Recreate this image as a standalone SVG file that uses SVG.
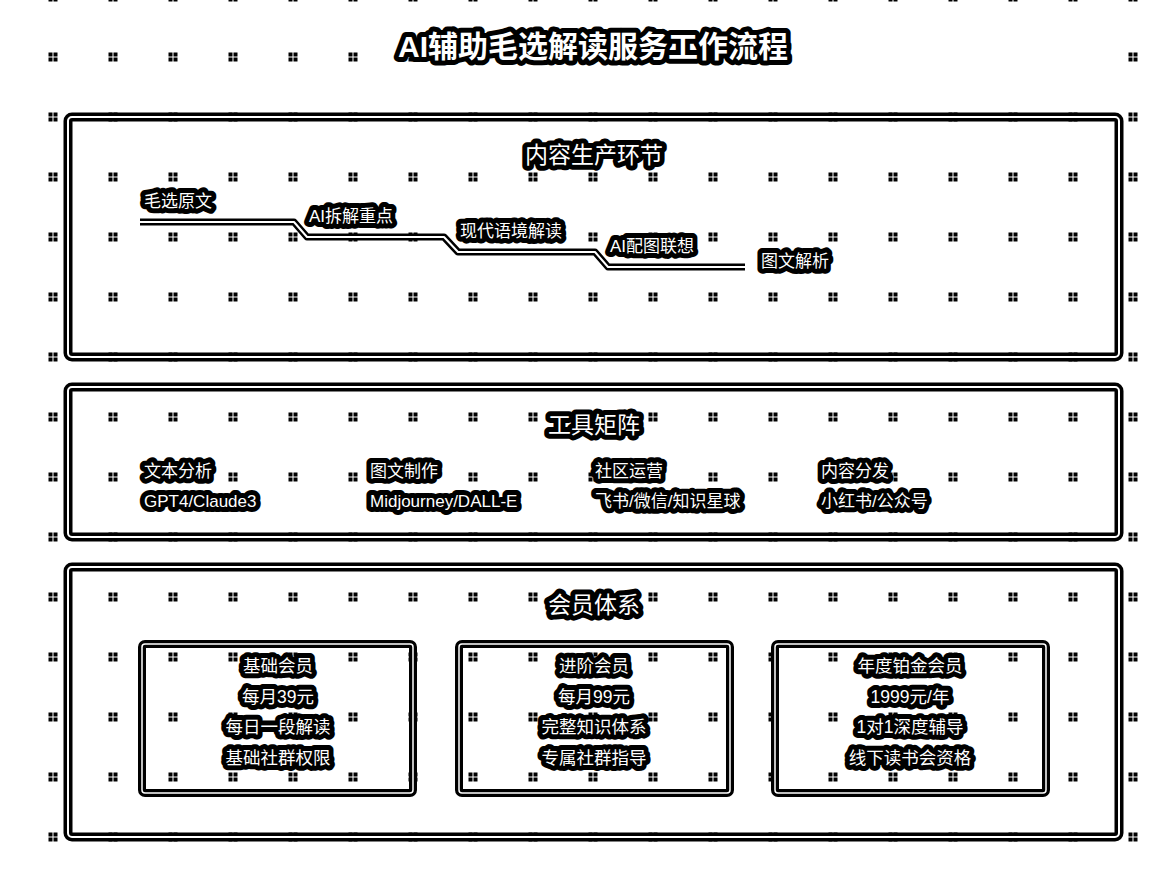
<svg xmlns="http://www.w3.org/2000/svg" width="1166" height="874" viewBox="0 0 1166 874">
<defs>
<pattern id="dots" patternUnits="userSpaceOnUse" x="23" y="27" width="60" height="60">
<rect x="25.5" y="25.5" width="4" height="4" fill="#000"/>
<rect x="30.5" y="25.5" width="4" height="4" fill="#000"/>
<rect x="25.5" y="30.5" width="4" height="4" fill="#000"/>
<rect x="30.5" y="30.5" width="4" height="4" fill="#000"/>
</pattern>
</defs>
<style>
text{font-family:"Liberation Sans","Noto Sans CJK SC",sans-serif;fill:#fff;stroke:#000;stroke-linejoin:round;paint-order:stroke fill;dominant-baseline:central}
.title{font-size:30px;font-weight:bold;stroke-width:10px;text-anchor:middle}
.sec{font-size:23px;stroke-width:10px;text-anchor:middle}
.lbl{font-size:17px;stroke-width:10px}
.ctr{font-size:17.5px;stroke-width:10px;text-anchor:middle}
.outer{fill:none;stroke:#000;stroke-width:9}
.inner{fill:none;stroke:#fff;stroke-width:2}
.couter{fill:none;stroke:#000;stroke-width:8}
.cinner{fill:none;stroke:#fff;stroke-width:1.5}
.lineo{fill:none;stroke:#000;stroke-width:7;stroke-linejoin:round}
.linei{fill:none;stroke:#fff;stroke-width:2;stroke-linejoin:round}
</style>
<rect width="1166" height="874" fill="#fff"/>
<rect width="1166" height="874" fill="url(#dots)"/>
<rect x="795" y="44" width="310" height="26" fill="#fff"/>

<g id="title">
<text class="title" x="593" y="46">AI辅助毛选解读服务工作流程</text>
</g>

<g id="section-content">
<rect class="outer" x="68" y="117" width="1051" height="240" rx="4"/>
<rect class="inner" x="68" y="117" width="1051" height="240" rx="4"/>
<text class="sec" x="594" y="155">内容生产环节</text>
</g>

<g id="connectors">
<path class="lineo" d="M140,222 H294 L307,237 H444 L458,252 H595 L608,267 H745"/>
<path class="linei" d="M140,222 H294 L307,237 H444 L458,252 H595 L608,267 H745"/>
</g>

<g id="step-1"><text class="lbl" x="144" y="201">毛选原文</text></g>
<g id="step-2"><text class="lbl" x="309" y="216">AI拆解重点</text></g>
<g id="step-3"><text class="lbl" x="460" y="231">现代语境解读</text></g>
<g id="step-4"><text class="lbl" x="610" y="246">AI配图联想</text></g>
<g id="step-5"><text class="lbl" x="761" y="261">图文解析</text></g>

<g id="section-tools">
<rect class="outer" x="68" y="387" width="1051" height="150" rx="4"/>
<rect class="inner" x="68" y="387" width="1051" height="150" rx="4"/>
<text class="sec" x="594" y="425">工具矩阵</text>
</g>
<g id="tool-1"><text class="lbl" x="144" y="471">文本分析</text><text class="lbl" x="144" y="501">GPT4/Claude3</text></g>
<g id="tool-2"><text class="lbl" x="370" y="471">图文制作</text><text class="lbl" x="370" y="501">Midjourney/DALL-E</text></g>
<g id="tool-3"><text class="lbl" x="595" y="471">社区运营</text><text class="lbl" x="595" y="501">飞书/微信/知识星球</text></g>
<g id="tool-4"><text class="lbl" x="821" y="471">内容分发</text><text class="lbl" x="821" y="501">小红书/公众号</text></g>

<g id="section-member">
<rect class="outer" x="68" y="567" width="1051" height="270" rx="4"/>
<rect class="inner" x="68" y="567" width="1051" height="270" rx="4"/>
<text class="sec" x="594" y="605">会员体系</text>
</g>

<g id="card-basic">
<rect class="couter" x="142" y="644" width="271" height="149" rx="3"/>
<rect class="cinner" x="142" y="644" width="271" height="149" rx="3"/>
<text class="ctr" x="278" y="666">基础会员</text>
<text class="ctr" x="278" y="697">每月39元</text>
<text class="ctr" x="278" y="727">每日一段解读</text>
<text class="ctr" x="278" y="758">基础社群权限</text>
</g>
<g id="card-advanced">
<rect class="couter" x="459" y="644" width="271" height="149" rx="3"/>
<rect class="cinner" x="459" y="644" width="271" height="149" rx="3"/>
<text class="ctr" x="594" y="666">进阶会员</text>
<text class="ctr" x="594" y="697">每月99元</text>
<text class="ctr" x="594" y="727">完整知识体系</text>
<text class="ctr" x="594" y="758">专属社群指导</text>
</g>
<g id="card-platinum">
<rect class="couter" x="775" y="644" width="271" height="149" rx="3"/>
<rect class="cinner" x="775" y="644" width="271" height="149" rx="3"/>
<text class="ctr" x="910" y="666">年度铂金会员</text>
<text class="ctr" x="910" y="697">1999元/年</text>
<text class="ctr" x="910" y="727">1对1深度辅导</text>
<text class="ctr" x="910" y="758">线下读书会资格</text>
</g>
</svg>
